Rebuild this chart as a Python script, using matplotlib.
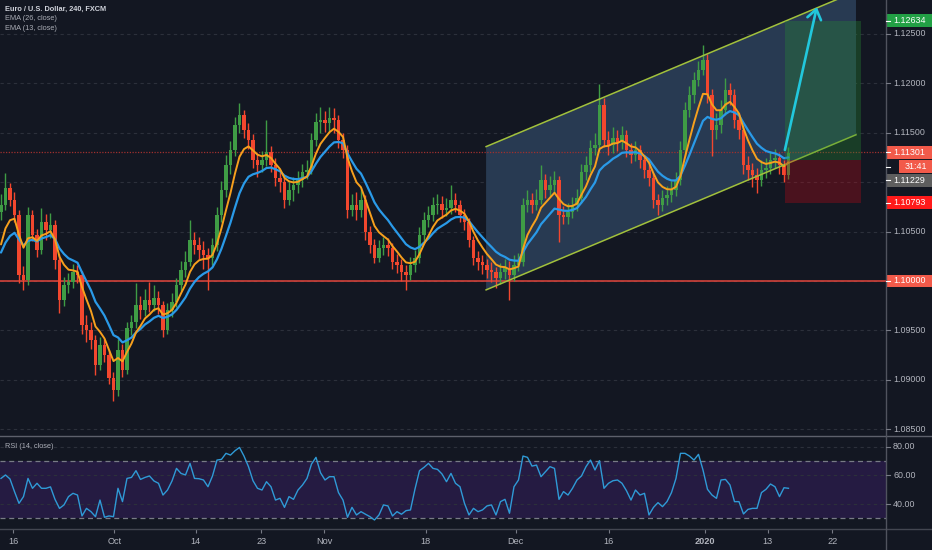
import matplotlib
matplotlib.use('Agg')
import matplotlib.pyplot as plt
import numpy as np
from matplotlib.patches import Rectangle, Polygon
from matplotlib.lines import Line2D

plt.rcParams['font.family'] = ['Liberation Sans', 'DejaVu Sans']

# ---------------- data (EUR/USD, bars aggregated to 2 per trading day) ----------------
opens = [
    1.1070, 1.1077, 1.1094, 1.1082, 1.1067, 1.1006, 1.1001, 1.1067, 1.1047, 1.1031,
    1.1060, 1.1052, 1.1057, 1.1021, 1.0981, 1.0996, 1.0999, 1.1009, 1.1006, 1.0955,
    1.0950, 1.0940, 1.0915, 1.0935, 1.0925, 1.0902, 1.0890, 1.0930, 1.0910, 1.0952,
    1.0958, 1.0976, 1.0971, 1.0981, 1.0976, 1.0983, 1.0976, 1.0950, 1.0971, 1.0979,
    1.0996, 1.1011, 1.1019, 1.1041, 1.1036, 1.1031, 1.1026, 1.1023, 1.1036, 1.1067,
    1.1092, 1.1117, 1.1133, 1.1158, 1.1168, 1.1153, 1.1143, 1.1122, 1.1117, 1.1122,
    1.1131, 1.1117, 1.1104, 1.1100, 1.1082, 1.1092, 1.1097, 1.1102, 1.1110, 1.1112,
    1.1143, 1.1161, 1.1163, 1.1160, 1.1165, 1.1163, 1.1143, 1.1133, 1.1072, 1.1077,
    1.1072, 1.1082, 1.1050, 1.1036, 1.1023, 1.1033, 1.1036, 1.1033, 1.1019, 1.1016,
    1.1009, 1.1006, 1.1016, 1.1023, 1.1047, 1.1062, 1.1067, 1.1077, 1.1078, 1.1072,
    1.1074, 1.1082, 1.1077, 1.1067, 1.1060, 1.1041, 1.1023, 1.1019, 1.1016, 1.1011,
    1.1009, 1.1003, 1.1009, 1.1013, 1.1006, 1.1016, 1.1019, 1.1077, 1.1082, 1.1077,
    1.1082, 1.1102, 1.1092, 1.1097, 1.1102, 1.1067, 1.1065, 1.1070, 1.1077, 1.1084,
    1.1110, 1.1117, 1.1135, 1.1138, 1.1178, 1.1143, 1.1138, 1.1145, 1.1141, 1.1148,
    1.1133, 1.1128, 1.1133, 1.1122, 1.1112, 1.1104, 1.1082, 1.1077, 1.1084, 1.1087,
    1.1092, 1.1102, 1.1133, 1.1173, 1.1188, 1.1203, 1.1214, 1.1224, 1.1188, 1.1153,
    1.1158, 1.1173, 1.1193, 1.1188, 1.1163, 1.1153, 1.1117, 1.1112, 1.1107, 1.1102,
    1.1112, 1.1114, 1.1122, 1.1124, 1.1117, 1.1107,
]
highs = [
    1.1088, 1.1109, 1.1099, 1.1090, 1.1072, 1.1015, 1.1075, 1.1072, 1.1053, 1.1074,
    1.1068, 1.1069, 1.1062, 1.1027, 1.1004, 1.1008, 1.1017, 1.1016, 1.1010, 1.0966,
    1.0958, 1.0945, 1.0943, 1.0941, 1.0930, 1.0908, 1.0941, 1.0936, 1.0958, 1.0966,
    1.0998, 1.0985, 1.0992, 1.0999, 1.0996, 1.0990, 1.0980, 1.0978, 1.0988, 1.1003,
    1.1020, 1.1030, 1.1062, 1.1050, 1.1045, 1.1040, 1.1033, 1.1044, 1.1075, 1.1101,
    1.1128, 1.1142, 1.1166, 1.1180, 1.1173, 1.1160, 1.1149, 1.1130, 1.1132, 1.1163,
    1.1137, 1.1124, 1.1112, 1.1106, 1.1100, 1.1105, 1.1111, 1.1118, 1.1122, 1.1150,
    1.1170, 1.1176, 1.1172, 1.1176, 1.1175, 1.1168, 1.1150, 1.1138, 1.1088, 1.1090,
    1.1094, 1.1087, 1.1056, 1.1042, 1.1041, 1.1045, 1.1044, 1.1038, 1.1027, 1.1022,
    1.1016, 1.1024, 1.1031, 1.1055, 1.1070, 1.1076, 1.1085, 1.1088, 1.1086, 1.1084,
    1.1097, 1.1089, 1.1082, 1.1073, 1.1064, 1.1046, 1.1030, 1.1026, 1.1022, 1.1019,
    1.1014, 1.1018, 1.1022, 1.1020, 1.1026, 1.1028, 1.1084, 1.1092, 1.1089, 1.1093,
    1.1117, 1.1108, 1.1106, 1.1111, 1.1106, 1.1076, 1.1079, 1.1085, 1.1093, 1.1118,
    1.1127, 1.1143, 1.1150, 1.1199, 1.1185, 1.1152, 1.1156, 1.1153, 1.1157, 1.1153,
    1.1140, 1.1142, 1.1138, 1.1128, 1.1118, 1.1109, 1.1088, 1.1092, 1.1096, 1.1101,
    1.1110, 1.1142, 1.1181, 1.1197, 1.1212, 1.1223, 1.1239, 1.1230, 1.1194, 1.1170,
    1.1183, 1.1205, 1.1200, 1.1194, 1.1170, 1.1158, 1.1126, 1.1119, 1.1114, 1.1122,
    1.1124, 1.1132, 1.1134, 1.1130, 1.1122, 1.1136,
]
lows = [
    1.1062, 1.1072, 1.1076, 1.1060, 1.0998, 1.0991, 1.0996, 1.1040, 1.1024, 1.1027,
    1.1041, 1.1044, 1.1012, 1.0968, 1.0975, 1.0988, 1.0993, 1.0998, 1.0946, 1.0938,
    1.0931, 1.0905, 1.0910, 1.0918, 1.0896, 1.0879, 1.0884, 1.0903, 1.0906, 1.0945,
    1.0952, 1.0962, 1.0965, 1.0969, 1.0970, 1.0967, 1.0943, 1.0946, 1.0964, 1.0974,
    1.0990, 1.1004, 1.1015, 1.1027, 1.1022, 1.1012, 1.0991, 1.1016, 1.1030, 1.1060,
    1.1085, 1.1108, 1.1126, 1.1150, 1.1145, 1.1134, 1.1114, 1.1105, 1.1110, 1.1116,
    1.1110, 1.1096, 1.1090, 1.1074, 1.1077, 1.1081, 1.1089, 1.1095, 1.1103, 1.1108,
    1.1137, 1.1150, 1.1151, 1.1152, 1.1150, 1.1135, 1.1124, 1.1064, 1.1066, 1.1062,
    1.1065, 1.1041, 1.1028, 1.1018, 1.1019, 1.1026, 1.1025, 1.1012, 1.1008, 1.1000,
    1.0991, 1.1001, 1.1009, 1.1018, 1.1040, 1.1055, 1.1061, 1.1068, 1.1064, 1.1066,
    1.1068, 1.1070, 1.1060, 1.1052, 1.1034, 1.1016, 1.1011, 1.1007, 1.1003, 1.0999,
    1.0993, 1.0997, 1.1002, 1.0981, 1.1000, 1.1010, 1.1015, 1.1070, 1.1069, 1.1072,
    1.1078, 1.1084, 1.1086, 1.1090, 1.1039, 1.1058, 1.1058, 1.1064, 1.1071, 1.1079,
    1.1102, 1.1110, 1.1128, 1.1133, 1.1136, 1.1128, 1.1130, 1.1132, 1.1134, 1.1125,
    1.1119, 1.1121, 1.1114, 1.1104, 1.1096, 1.1074, 1.1067, 1.1071, 1.1077, 1.1080,
    1.1086, 1.1097, 1.1127, 1.1166, 1.1180, 1.1197, 1.1208, 1.1180, 1.1126, 1.1144,
    1.1150, 1.1168, 1.1178, 1.1155, 1.1144, 1.1108, 1.1102, 1.1095, 1.1089, 1.1096,
    1.1104, 1.1108, 1.1114, 1.1108, 1.1100, 1.1103,
]
closes = [
    1.1077, 1.1094, 1.1082, 1.1067, 1.1006, 1.1001, 1.1067, 1.1047, 1.1031, 1.1060,
    1.1052, 1.1057, 1.1021, 1.0981, 1.0996, 1.0999, 1.1009, 1.1006, 1.0955, 1.0950,
    1.0940, 1.0915, 1.0935, 1.0925, 1.0902, 1.0890, 1.0930, 1.0910, 1.0952, 1.0958,
    1.0976, 1.0971, 1.0981, 1.0976, 1.0983, 1.0976, 1.0950, 1.0971, 1.0979, 1.0996,
    1.1011, 1.1019, 1.1041, 1.1036, 1.1031, 1.1026, 1.1023, 1.1036, 1.1067, 1.1092,
    1.1117, 1.1133, 1.1158, 1.1168, 1.1153, 1.1143, 1.1122, 1.1117, 1.1122, 1.1131,
    1.1117, 1.1104, 1.1100, 1.1082, 1.1092, 1.1097, 1.1102, 1.1110, 1.1112, 1.1143,
    1.1161, 1.1163, 1.1160, 1.1165, 1.1163, 1.1143, 1.1133, 1.1072, 1.1077, 1.1072,
    1.1082, 1.1050, 1.1036, 1.1023, 1.1033, 1.1036, 1.1033, 1.1019, 1.1016, 1.1009,
    1.1006, 1.1016, 1.1023, 1.1047, 1.1062, 1.1067, 1.1077, 1.1078, 1.1072, 1.1074,
    1.1082, 1.1077, 1.1067, 1.1060, 1.1041, 1.1023, 1.1019, 1.1016, 1.1011, 1.1009,
    1.1003, 1.1009, 1.1013, 1.1006, 1.1016, 1.1019, 1.1077, 1.1082, 1.1077, 1.1082,
    1.1102, 1.1092, 1.1097, 1.1102, 1.1067, 1.1065, 1.1070, 1.1077, 1.1084, 1.1110,
    1.1117, 1.1135, 1.1138, 1.1178, 1.1143, 1.1138, 1.1145, 1.1141, 1.1148, 1.1133,
    1.1128, 1.1133, 1.1122, 1.1112, 1.1104, 1.1082, 1.1077, 1.1084, 1.1087, 1.1092,
    1.1102, 1.1133, 1.1173, 1.1188, 1.1203, 1.1214, 1.1224, 1.1188, 1.1153, 1.1158,
    1.1173, 1.1193, 1.1188, 1.1163, 1.1153, 1.1117, 1.1112, 1.1107, 1.1102, 1.1112,
    1.1114, 1.1122, 1.1124, 1.1117, 1.1107, 1.1130,
]
rsi_values = [
    57.9, 60.3, 57.5, 48.7, 40.5, 45.2, 57.9, 51.0, 54.5, 51.0,
    51.0, 52.0, 43.3, 37.0, 39.4, 45.2, 47.5, 46.3, 31.7, 37.0,
    34.7, 31.2, 42.8, 30.8, 31.7, 31.2, 51.0, 41.7, 57.9, 58.6,
    63.3, 57.2, 58.6, 59.6, 56.1, 54.5, 46.3, 49.8, 56.1, 64.9,
    61.4, 60.3, 68.4, 57.9, 57.7, 56.8, 52.1, 59.6, 70.7, 71.2,
    75.4, 74.2, 77.2, 79.5, 73.5, 66.1, 56.3, 51.0, 49.8, 55.6,
    52.1, 42.8, 44.0, 37.7, 45.2, 43.3, 49.8, 53.3, 57.9, 67.9,
    72.6, 61.9, 56.8, 59.1, 59.1, 48.0, 42.8, 30.8, 37.7, 32.4,
    34.7, 32.9, 31.2, 28.9, 32.4, 39.4, 38.7, 31.7, 34.7, 32.9,
    35.4, 35.9, 50.5, 63.3, 65.6, 68.4, 64.9, 64.2, 61.0, 55.6,
    61.4, 54.5, 52.1, 40.5, 32.4, 37.0, 34.7, 35.9, 38.7, 39.4,
    32.4, 41.7, 43.3, 33.6, 52.1, 56.8, 73.5, 72.6, 66.5, 67.2,
    59.1, 62.6, 66.1, 64.9, 43.3, 48.7, 46.3, 51.0, 56.8, 59.6,
    66.1, 70.7, 63.8, 70.3, 51.0, 54.5, 56.3, 56.8, 54.5, 49.3,
    42.8, 49.8, 46.3, 47.5, 32.4, 37.7, 41.0, 38.2, 41.7, 48.0,
    57.9, 75.4, 75.4, 73.5, 70.7, 74.7, 63.8, 50.3, 46.3, 44.0,
    56.8, 57.2, 53.3, 41.7, 41.7, 33.1, 36.3, 37.0, 37.0, 48.0,
    50.3, 54.0, 52.1, 45.2, 51.4, 51.0,
]
# EMA levels just before the first visible bar
ema_seed_fast = 1.1021
ema_seed_slow = 1.1020

tick_pos = [2.7, 25.2, 43.3, 57.8, 71.8, 94.4, 114.4, 135.1, 156.4, 170.4, 184.7]
tick_labels = ['16', 'Oct', '14', '23', 'Nov', '18', 'Dec', '16', '2020', '13', '22']
price_ticks = [1.125, 1.120, 1.115, 1.105, 1.095, 1.090, 1.085]
grid_levels = [1.085, 1.090, 1.095, 1.100, 1.105, 1.110, 1.115, 1.120, 1.125]
rsi_ticks = [80, 60, 40]

last_price = 1.11301
support_level = 1.10000
entry_price = 1.11229
target_price = 1.12634
stop_price = 1.10793

# drawings (bar index, price)
channel_x = [107.8, 190.0]
channel_lower = [1.0991, 1.1148]
channel_upper = [1.1136, 1.1293]
position_x = [174.2, 191.1]
arrow_start = (174.2, 1.11326)
arrow_end = (181.3, 1.12773)

# ---------------- style ----------------
BG = '#131722'
UP = '#3f9c45'
DOWN = '#f2472e'
TXT = '#b2b5be'
W, H = 932, 550

fig = plt.figure(figsize=(W / 100, H / 100), dpi=100, facecolor=BG)
ax = fig.add_axes([0, 1 - 436 / H, 886 / W, 436 / H])
axr = fig.add_axes([0, 1 - 529 / H, 886 / W, 93 / H])
for a in (ax, axr):
    a.set_facecolor(BG)
    for s in a.spines.values():
        s.set_visible(False)
    a.set_xlim(-0.22, 196.67)
ax.set_ylim(1.08431, 1.12844)
axr.set_ylim(22.6, 87.5)
ax.set_xticks([])
ax.set_yticks([])
axr.set_yticks([])

o = np.array(opens)
h = np.array(highs)
l = np.array(lows)
c = np.array(closes)
n = len(c)
x = np.arange(n)

# grid
for p in grid_levels:
    ax.axhline(p, color='#2c303b', lw=0.8, ls=(0, (3, 3)), zorder=0.5)

# channel fill
ax.add_patch(Polygon([(channel_x[0], channel_lower[0]), (channel_x[1], channel_lower[1]),
                      (channel_x[1], channel_upper[1]), (channel_x[0], channel_upper[0])],
                     closed=True, facecolor='#283a52', edgecolor='none', zorder=1))

# horizontal lines
ax.axhline(support_level, color='#e2453c', lw=1.1, zorder=2)
ax.axhline(last_price, color='#a0302e', lw=0.9, ls=(0, (1, 1.2)), zorder=2)

# candles
colors = np.where(c >= o, UP, DOWN)
ax.vlines(x, np.minimum(l, np.minimum(o, c)), np.maximum(h, np.maximum(o, c)),
          colors=colors, lw=1.0, zorder=3)
body_bottom = np.minimum(o, c)
body_h = np.maximum(np.abs(c - o), 0.00004)
ax.bar(x, body_h, bottom=body_bottom, width=0.72, color=colors, linewidth=0, zorder=4)

# EMAs (spans scaled for the 2-bars-per-day aggregation of the 4h EMA 13 / 26)
def ema(vals, span, seed):
    a = 2.0 / (span + 1.0)
    out, e = [], seed
    for v in vals:
        e = e + a * (v - e)
        out.append(e)
    return np.array(out)

ema_fast = ema(c, 6.0, ema_seed_fast)
ema_slow = ema(c, 12.0, ema_seed_slow)
ax.plot(x, ema_slow, color='#2a9ae8', lw=1.6, zorder=5, solid_capstyle='round')
ax.plot(x, ema_fast, color='#f7a01d', lw=1.4, zorder=5.1, solid_capstyle='round')

# channel borders
ax.plot(channel_x, channel_lower, color='#a2c13c', lw=1.1, zorder=6)
ax.plot(channel_x, channel_upper, color='#a2c13c', lw=1.1, zorder=6)

# long position tool
ax.add_patch(Rectangle((position_x[0], entry_price), position_x[1] - position_x[0],
                       target_price - entry_price, facecolor=(0.15, 0.55, 0.2, 0.33),
                       edgecolor='none', zorder=6.5))
ax.add_patch(Rectangle((position_x[0], stop_price), position_x[1] - position_x[0],
                       entry_price - stop_price, facecolor=(0.75, 0.04, 0.09, 0.32),
                       edgecolor='none', zorder=6.5))

# arrow
ax.annotate('', xy=arrow_end, xytext=arrow_start,
            arrowprops=dict(arrowstyle='->,head_length=0.7,head_width=0.5',
                            color='#22c7dc', lw=1.9, mutation_scale=10,
                            shrinkA=0, shrinkB=0), zorder=7)

# RSI pane
axr.axhspan(30, 70, color='#251b42', zorder=0.5, lw=0)
for v in rsi_ticks:
    axr.axhline(v, color='#2c303b', lw=0.8, ls=(0, (3, 3)), zorder=0.8)
for v in (30, 70):
    axr.axhline(v, color='#787b86', lw=0.9, ls=(0, (4, 3)), zorder=1)
axr.plot(x, rsi_values, color='#2f9ad6', lw=1.0, zorder=3)

axr.set_xticks(tick_pos)
axr.set_xticklabels(tick_labels)
axr.tick_params(axis='x', colors='#787b86', labelcolor=TXT, length=3, width=0.8,
                pad=2.5, labelsize=6.6)
for i, t in enumerate(axr.get_xticklabels()):
    if tick_labels[i] == '2020':
        t.set_fontweight('bold')

# frame lines
fig.add_artist(Line2D([0, 1], [1 - 436 / H, 1 - 436 / H], color='#5d606b', lw=1.0,
                      transform=fig.transFigure))
fig.add_artist(Line2D([0, 1], [1 - 529 / H, 1 - 529 / H], color='#434651', lw=1.0,
                      transform=fig.transFigure))
fig.add_artist(Line2D([886 / W, 886 / W], [0, 1], color='#50535e', lw=1.0,
                      transform=fig.transFigure))

def ypix(axis, v):
    return axis.transData.transform((0, v))[1]   # display px from bottom

def label(ycenter_px, text, color=None, x0=886, tcolor='#ffffff', center=False):
    hgt = 12.5
    if color is not None:
        fig.add_artist(Rectangle((x0 / W, (ycenter_px - hgt / 2) / H), (W - x0) / W, hgt / H,
                                 facecolor=color, edgecolor='none', transform=fig.transFigure))
    if center:
        fig.text((x0 + W) / 2 / W, ycenter_px / H, text, color=tcolor, fontsize=6.4,
                 ha='center', va='center')
    else:
        fig.text(893 / W, ycenter_px / H, text, color=tcolor, fontsize=6.4,
                 ha='left', va='center')
    fig.add_artist(Line2D([886 / W, 890 / W], [ycenter_px / H, ycenter_px / H],
                          color=tcolor if color is not None else '#787b86', lw=0.8,
                          transform=fig.transFigure))

for p in price_ticks:
    label(ypix(ax, p), f'{p:.5f}', tcolor=TXT)
for v in rsi_ticks:
    label(ypix(axr, v), f'{v:.2f}', tcolor=TXT)

y_last = ypix(ax, last_price)
label(ypix(ax, target_price), f'{target_price:.5f}', color='#22a045')
label(y_last, f'{last_price:.5f}', color='#f25a4a')
label(y_last - 14.3, '31:41', color='#f25a4a', x0=899, center=True)
label(y_last - 28.0, f'{entry_price:.5f}', color='#5e5e5e')
label(ypix(ax, stop_price), f'{stop_price:.5f}', color='#ff1a1a')
label(ypix(ax, support_level), f'{support_level:.5f}', color='#f25a4a')

# legends
fig.text(5 / W, 1 - 9.3 / H, 'Euro / U.S. Dollar, 240, FXCM', fontsize=5.3,
         fontweight='bold', color='#d1d4dc', va='center', ha='left')
fig.text(5 / W, 1 - 19.0 / H, 'EMA (26, close)', fontsize=5.3, color='#a9acb5',
         va='center', ha='left')
fig.text(5 / W, 1 - 28.7 / H, 'EMA (13, close)', fontsize=5.3, color='#a9acb5',
         va='center', ha='left')
fig.text(5 / W, 1 - 446 / H, 'RSI (14, close)', fontsize=5.3, color='#a9acb5',
         va='center', ha='left')

fig.savefig('out.png', dpi=100, facecolor=BG)
